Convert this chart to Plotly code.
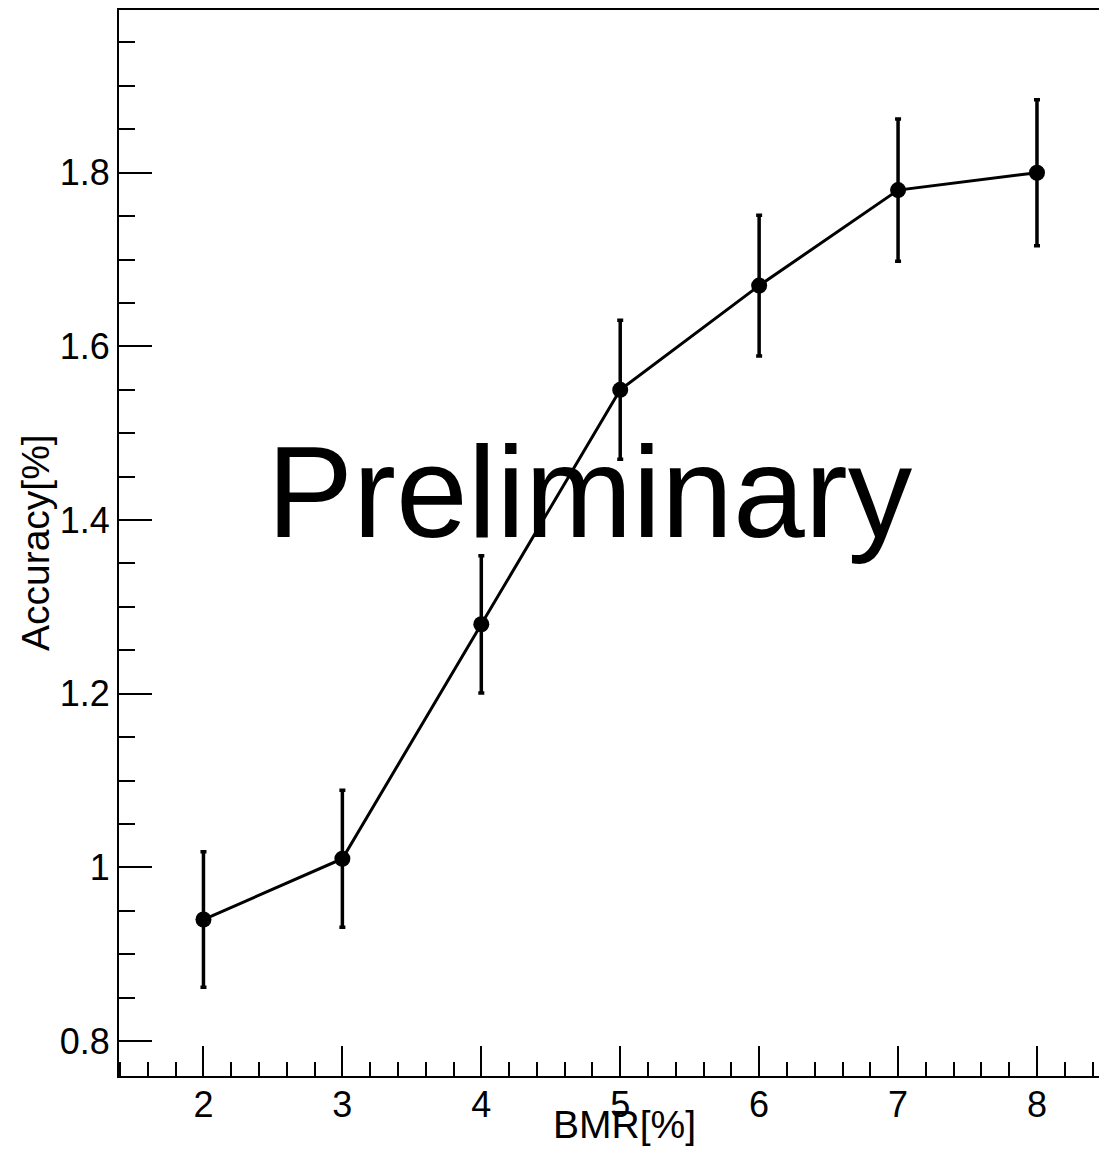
import plotly.graph_objects as go

bmr = [2, 3, 4, 5, 6, 7, 8]
accuracy = [0.94, 1.01, 1.28, 1.55, 1.67, 1.78, 1.80]
accuracy_err = [0.078, 0.079, 0.079, 0.080, 0.081, 0.082, 0.084]
y_tickvals = [0.8, 1.0, 1.2, 1.4, 1.6, 1.8]
y_ticktext = ["0.8", "1", "1.2", "1.4", "1.6", "1.8"]
x_tickvals = [2, 3, 4, 5, 6, 7, 8]

FONT = "Liberation Sans, Arial, Helvetica, sans-serif"

fig = go.Figure()
fig.add_trace(go.Scatter(
    x=bmr, y=accuracy, mode="lines+markers",
    line=dict(color="black", width=3),
    marker=dict(color="black", size=16),
    error_y=dict(type="data", array=accuracy_err, color="black", thickness=3.5, width=3),
    showlegend=False,
))

# the page body has an 8px default margin; size the figure to fit the window
fig.update_layout(
    width=1099, height=1148,
    margin=dict(l=111, r=0, t=0, b=80),
    plot_bgcolor="white", paper_bgcolor="white",
    font=dict(family=FONT, color="black"),
    xaxis=dict(
        range=[1.392, 8.504], showgrid=False, zeroline=False,
        showline=True, linecolor="black", linewidth=2, mirror=True,
        tickvals=x_tickvals, ticks="inside", ticklen=30, tickwidth=2, tickcolor="black",
        ticklabelstandoff=-4,
        tickfont=dict(size=36, family=FONT, color="black"),
        minor=dict(dtick=0.2, tick0=0, ticks="inside", ticklen=14, tickwidth=2, tickcolor="black", showgrid=False),
    ),
    yaxis=dict(
        range=[0.7598, 1.9874], showgrid=False, zeroline=False,
        showline=True, linecolor="black", linewidth=2,
        tickvals=y_tickvals, ticktext=y_ticktext,
        ticks="inside", ticklen=33, tickwidth=2, tickcolor="black",
        tickfont=dict(size=36, family=FONT, color="black"),
        minor=dict(dtick=0.05, tick0=0, ticks="inside", ticklen=16, tickwidth=2, tickcolor="black", showgrid=False),
    ),
    annotations=[
        dict(text="Preliminary", x=0.4767, y=0.5474, xref="paper", yref="paper",
             xanchor="center", yanchor="middle", showarrow=False,
             font=dict(size=129, family=FONT, color="black")),
        dict(text="BMR[%]", x=0.512, y=-0.0459, xref="paper", yref="paper",
             xanchor="center", yanchor="middle", showarrow=False,
             font=dict(size=39, family=FONT, color="black")),
        dict(text="Accuracy[%]", x=-0.085, y=0.5, xref="paper", yref="paper",
             xanchor="center", yanchor="middle", showarrow=False, textangle=-90,
             font=dict(size=39, family=FONT, color="black")),
    ],
)

fig.write_html("out.html")
